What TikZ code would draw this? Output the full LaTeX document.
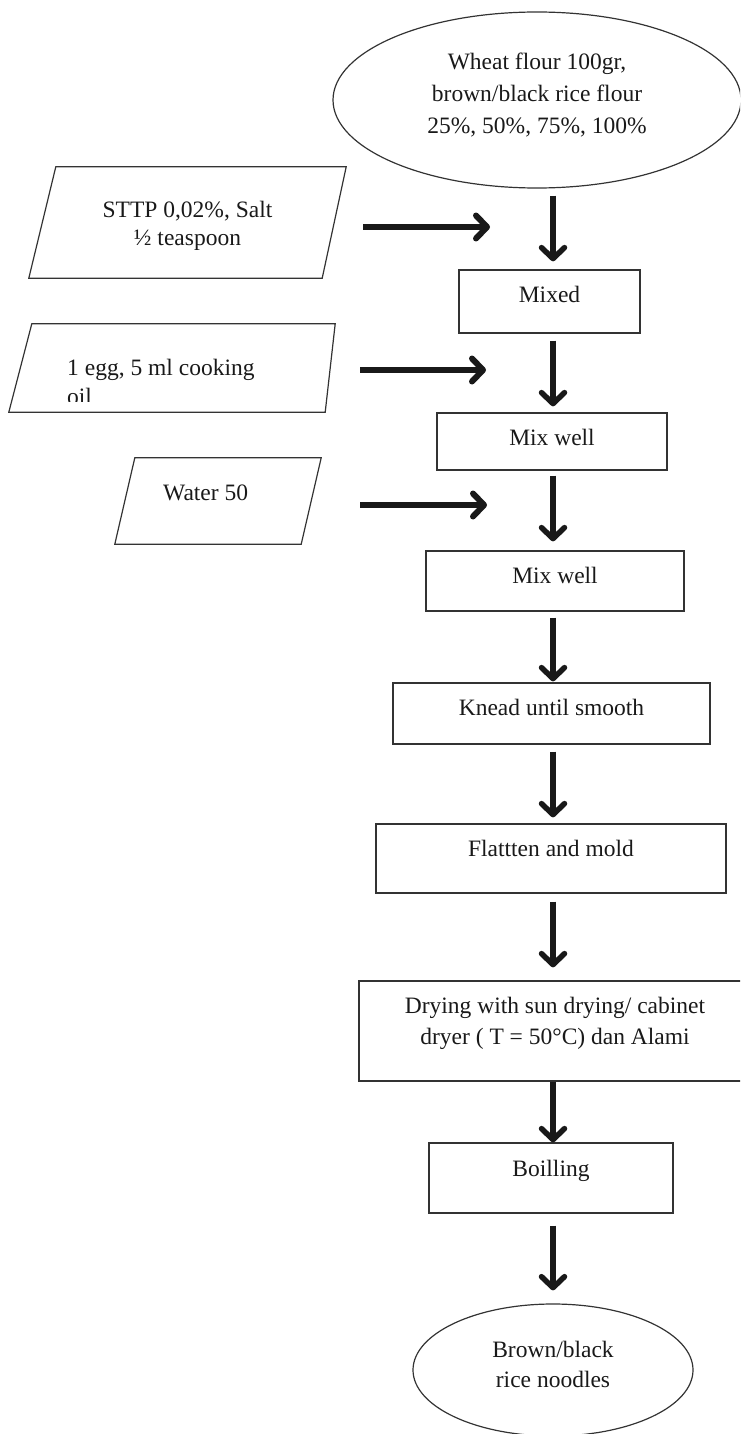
\documentclass[tikz,border=0pt]{standalone}
\usepackage{fontspec}
\setmainfont{Liberation Serif}
\usetikzlibrary{shapes.geometric, arrows.meta}
\begin{document}
\begin{tikzpicture}[x=1pt,y=-1pt,
  box/.style={draw=black!80, line width=1.3pt, rectangle, inner sep=0pt},
  oval/.style={draw=black!80, line width=1.2pt, ellipse, inner sep=0pt},
  frame/.style={rectangle, inner sep=0pt},
  paraline/.style={draw=black!80, line width=1.2pt, line join=miter},
  txt/.style={font=\fontsize{23.5}{32}\selectfont, text=black!90, inner sep=0pt, anchor=base},
  arr/.style={line width=5.5pt, draw=black!90, -{Straight Barb[length=11pt, width=23pt, round]}},
]
\useasboundingbox (0,0) rectangle (740,1434);
\clip (0,0) rectangle (740,1434);

% shapes
\node[oval, minimum width=408pt, minimum height=176pt] (e1) at (537,100) {};
\node[frame, minimum width=317pt, minimum height=111pt] (p1) at (187.5,222.5) {};
\draw[paraline] ([xshift=27pt]p1.north west) -- (p1.north east) -- ([xshift=-24pt]p1.south east) -- (p1.south west) -- cycle;
\node[box, minimum width=181pt, minimum height=63pt] (mixed) at (549.5,301.5) {};
\node[frame, minimum width=326pt, minimum height=88pt] (p2) at (172,368) {};
\draw[paraline] ([xshift=23pt]p2.north west) -- (p2.north east) -- ([xshift=-10pt]p2.south east) -- (p2.south west) -- cycle;
\node[box, minimum width=230pt, minimum height=57pt] (mix1) at (552,441.5) {};
\node[frame, minimum width=206pt, minimum height=86pt] (p3) at (218,501) {};
\draw[paraline] ([xshift=20pt]p3.north west) -- (p3.north east) -- ([xshift=-20pt]p3.south east) -- (p3.south west) -- cycle;
\node[box, minimum width=258pt, minimum height=60pt] (mix2) at (555,581) {};
\node[box, minimum width=317pt, minimum height=61pt] (knead) at (551.5,713.5) {};
\node[box, minimum width=350pt, minimum height=69pt] (flat) at (551,858.5) {};
\node[box, minimum width=392pt, minimum height=100pt] (dry) at (555,1031) {};
\node[box, minimum width=244pt, minimum height=70pt] (boil) at (551,1178) {};
\node[oval, minimum width=280pt, minimum height=132pt] (e2) at (553,1370) {};

% texts
\node[txt] (te1a) at (537,70) {Wheat flour 100gr,};
\node[txt] (te1b) at (537,102) {brown/black rice flour};
\node[txt] (te1c) at (537,134) {25\%, 50\%, 75\%, 100\%};
\node[txt] (tp1a) at (187.5,217) {STTP 0,02\%, Salt};
\node[txt] (tp1b) at (187.5,245) {½ teaspoon};
\node[txt] (tmixed) at (549.5,302) {Mixed};
\node[txt, anchor=base west] (tp2a) at (67,375) {1 egg, 5 ml cooking};
\begin{scope}
\clip (0,380) rectangle (360,401);
\node[txt, anchor=base west] (tp2b) at (67,404) {oil};
\end{scope}
\node[txt] (tmix1) at (552,445) {Mix well};
\node[txt, anchor=base west] (tp3) at (163,500) {Water 50};
\node[txt] (tmix2) at (555,583) {Mix well};
\node[txt] (tknead) at (551.5,715) {Knead until smooth};
\node[txt] (tflat) at (551,856) {Flattten and mold};
\node[txt] (tdry1) at (555,1013) {Drying with sun drying/ cabinet};
\node[txt] (tdry2) at (555,1044) {dryer ( T = 50°C) dan Alami};
\node[txt] (tboil) at (551,1176) {Boilling};
\node[txt] (te2a) at (553,1357) {Brown/black};
\node[txt] (te2b) at (553,1387) {rice noodles};

% connectors
\coordinate (ax) at (553,0);
\draw[arr, shorten <=7pt, shorten >=8pt] (e1.south -| ax) -- (mixed.north -| ax);
\draw[arr, shorten <=7pt, shorten >=6pt] (mixed.south -| ax) -- (mix1.north -| ax);
\draw[arr, shorten <=5pt, shorten >=9pt] (mix1.south -| ax) -- (mix2.north -| ax);
\draw[arr, shorten <=6pt, shorten >=1pt] (mix2.south -| ax) -- (knead.north -| ax);
\draw[arr, shorten <=7pt, shorten >=6pt] (knead.south -| ax) -- (flat.north -| ax);
\draw[arr, shorten <=8pt, shorten >=13pt] (flat.south -| ax) -- (dry.north -| ax);
\draw[arr] (dry.south -| ax) -- (boil.north -| ax);
\draw[arr, shorten <=12pt, shorten >=13pt] (boil.south -| ax) -- (e2.north -| ax);

\coordinate (h1a) at (363,227);
\coordinate (h1b) at (490,227);
\coordinate (h2a) at (360,370);
\coordinate (h2b) at (486,370);
\coordinate (h3a) at (360,505);
\coordinate (h3b) at (487,505);
\draw[arr, line width=6pt] (h1a) -- (h1b);
\draw[arr, line width=6pt] (h2a) -- (h2b);
\draw[arr, line width=6pt] (h3a) -- (h3b);
\end{tikzpicture}
\end{document}
